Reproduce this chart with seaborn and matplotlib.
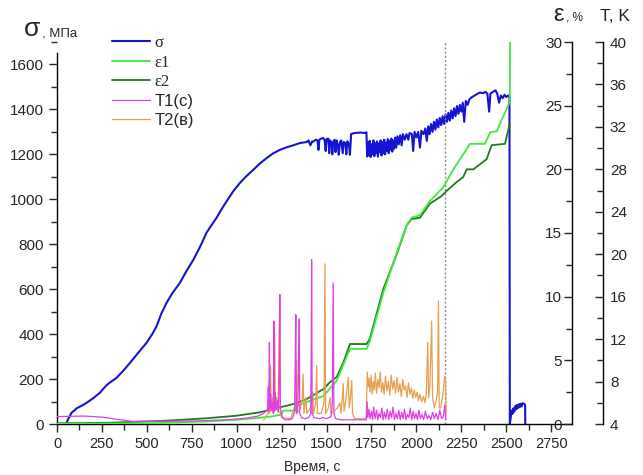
import matplotlib
matplotlib.use("Agg")
import matplotlib.pyplot as plt
from matplotlib.ticker import MultipleLocator
import seaborn as sns

sns.set_style("ticks")
plt.rcParams['font.family'] = ['Liberation Sans', 'DejaVu Sans']

# ---------------- data ----------------
sigma_t = [54, 58, 80, 110, 146, 175, 202, 240, 276, 300, 331, 370, 405, 450, 498, 530, 553, 580,
           609, 640, 683, 720, 759, 800, 832, 860, 888, 915, 943, 980, 1017, 1050, 1092, 1130, 1166,
           1200, 1240, 1280, 1314, 1350, 1390, 1400, 1410, 1420, 1427, 1440, 1450, 1455, 1460, 1470,
           1481, 1490, 1495, 1500, 1510, 1515, 1520, 1528, 1532, 1538, 1545, 1550, 1556, 1563, 1568,
           1575, 1582, 1590, 1596, 1605, 1610, 1616, 1625, 1630, 1637, 1650, 1670, 1690, 1710, 1722,
           1726, 1731, 1736, 1741, 1746, 1751, 1756, 1761, 1766, 1771, 1776, 1781, 1786, 1791, 1796,
           1801, 1806, 1811, 1816, 1821, 1826, 1831, 1836, 1841, 1846, 1851, 1856, 1861, 1866, 1871,
           1876, 1882, 1888, 1895, 1902, 1910, 1918, 1925, 1935, 1945, 1955, 1962, 1975, 1982, 1990,
           2000, 2010, 2020, 2028, 2040, 2050, 2058, 2066, 2074, 2082, 2090, 2098, 2106, 2114, 2122,
           2130, 2138, 2146, 2154, 2162, 2170, 2178, 2186, 2194, 2202, 2210, 2218, 2226, 2234, 2242,
           2250, 2258, 2266, 2275, 2285, 2295, 2310, 2325, 2340, 2354, 2370, 2385, 2395, 2405, 2412,
           2425, 2440, 2450, 2460, 2470, 2480, 2490, 2500, 2510, 2518, 2520, 2525, 2530, 2535, 2540,
           2545, 2550, 2555, 2560, 2565, 2570, 2575, 2580, 2585, 2590, 2600, 2605, 2606]
sigma_v = [3, 15, 49, 70, 85, 100, 115, 140, 173, 188, 205, 238, 271, 315, 361, 400, 433, 490,
           538, 580, 627, 680, 731, 795, 851, 885, 918, 955, 990, 1035, 1072, 1100, 1131, 1160, 1183,
           1203, 1220, 1232, 1240, 1250, 1255, 1262, 1240, 1258, 1257, 1265, 1262, 1220, 1265, 1270,
           1273, 1262, 1215, 1268, 1270, 1205, 1262, 1250, 1200, 1258, 1265, 1210, 1262, 1240, 1198,
           1255, 1262, 1205, 1255, 1250, 1200, 1258, 1245, 1198, 1290, 1294, 1296, 1297, 1295, 1298,
           1190, 1255, 1195, 1260, 1188, 1245, 1200, 1262, 1192, 1250, 1205, 1258, 1190, 1248, 1210,
           1262, 1195, 1255, 1205, 1265, 1200, 1252, 1215, 1268, 1205, 1260, 1220, 1270, 1212, 1262,
           1225, 1275, 1230, 1280, 1245, 1285, 1240, 1290, 1265, 1290, 1265, 1295, 1290, 1215, 1300,
           1275, 1300, 1230, 1305, 1290, 1315, 1260, 1325, 1290, 1335, 1300, 1345, 1310, 1355, 1320,
           1362, 1330, 1370, 1335, 1378, 1345, 1385, 1350, 1395, 1360, 1405, 1370, 1415, 1380, 1420,
           1390, 1430, 1345, 1438, 1420, 1445, 1455, 1462, 1470, 1475, 1472, 1478, 1470, 1390, 1470,
           1478, 1485, 1470, 1430, 1462, 1450, 1465, 1455, 1462, 1458, 0, 30, 60, 45, 70,
           55, 80, 65, 85, 70, 88, 75, 90, 78, 92, 90, 85, 0]

eps1_t = [0, 500, 832, 1017, 1100, 1200, 1250, 1258, 1324, 1333, 1483, 1557, 1630, 1723, 1741, 1816,
          1898, 1946, 1973, 2020, 2075, 2150, 2206, 2280, 2298, 2382, 2410, 2447, 2520, 2521]
eps1_v = [0.02, 0.05, 0.2, 0.35, 0.45, 0.6, 0.75, 1.05, 1.05, 1.44, 2.2, 3.4, 5.9, 5.9, 6.5, 10.3,
          13.75, 15.6, 16.2, 16.4, 17.5, 18.6, 20.0, 21.6, 22.0, 22.0, 22.9, 23.0, 25.3, 30.0]

eps2_t = [0, 300, 600, 832, 1000, 1129, 1316, 1390, 1483, 1520, 1557, 1594, 1630, 1723, 1741, 1816,
          1890, 1946, 1973, 2020, 2075, 2140, 2168, 2224, 2261, 2280, 2317, 2391, 2419, 2493, 2520]
eps2_v = [0.05, 0.1, 0.25, 0.45, 0.65, 0.92, 1.57, 1.96, 2.75, 3.3, 3.7, 4.85, 6.28, 6.28, 6.7, 10.6,
          13.3, 15.6, 16.1, 16.2, 17.3, 17.9, 18.3, 19.0, 19.4, 20.0, 20.0, 20.8, 21.9, 22.0, 23.6]

t1_t = [0, 150, 250, 330, 420, 600, 800, 950, 1050, 1120, 1150, 1170,
        1172, 1176, 1179, 1182, 1185, 1190, 1194, 1200, 1204, 1207, 1210, 1215, 1220, 1226, 1232,
        1237, 1240, 1243, 1248, 1255, 1270, 1290, 1310, 1322, 1326, 1329, 1332, 1340, 1345, 1348,
        1351, 1360, 1380, 1400, 1412, 1415, 1417, 1420, 1430, 1460, 1480, 1500, 1525, 1532, 1537,
        1541, 1550, 1580, 1620, 1660, 1700, 1722, 1726, 1730, 1736, 1742, 1750, 1756, 1762, 1770,
        1778, 1785, 1792, 1800, 1808, 1815, 1822, 1830, 1838, 1846, 1854, 1862, 1870, 1878, 1886,
        1894, 1902, 1910, 1918, 1926, 1934, 1942, 1950, 1958, 1966, 1974, 1982, 1990, 1998, 2006,
        2014, 2022, 2030, 2040, 2050, 2060, 2070, 2080, 2090, 2100, 2110, 2120, 2130, 2140, 2150,
        2158, 2164]
t1_v = [4.7, 4.75, 4.65, 4.45, 4.25, 4.25, 4.3, 4.4, 4.55, 4.75, 5.0, 5.3,
        5.5, 7.5, 5.2, 11.7, 5.5, 6.8, 5.3, 6.0, 5.0, 13.7, 5.2, 7.0, 5.3, 6.2, 5.1,
        9.0, 16.2, 5.6, 5.0, 4.6, 4.4, 4.4, 4.5, 5.2, 10.5, 14.3, 5.0, 5.5, 9.5, 13.9,
        5.0, 4.6, 4.5, 4.6, 5.0, 12.0, 19.5, 5.0, 4.6, 4.5, 4.6, 4.5, 4.7, 6.0, 17.3,
        5.0, 4.5, 4.4, 4.4, 4.4, 4.4, 4.4, 6.1, 4.6, 5.4, 4.5, 5.2, 4.4, 5.6, 4.5,
        5.3, 4.4, 5.0, 4.6, 5.5, 4.4, 5.1, 4.5, 5.4, 4.4, 5.2, 4.6, 5.6, 4.4, 5.0,
        4.5, 5.3, 4.4, 5.1, 4.5, 5.4, 4.4, 4.9, 4.6, 5.5, 4.4, 5.2, 4.5, 5.0, 4.4,
        5.3, 4.5, 4.9, 4.4, 5.2, 4.5, 4.8, 4.4, 5.1, 4.5, 5.0, 4.4, 5.3, 4.5, 4.7,
        5.8, 4.4]

t2_t = [1150, 1175, 1180, 1183, 1188, 1192, 1200, 1205, 1212, 1215, 1222, 1230, 1238, 1242, 1250,
        1300, 1330, 1335, 1338, 1355, 1365, 1370, 1374, 1385, 1390, 1410, 1423, 1428, 1440, 1445,
        1449, 1470, 1486, 1491, 1495, 1510, 1520, 1525, 1560, 1575, 1580, 1588, 1593, 1597, 1605,
        1612, 1621, 1626, 1633, 1640, 1645, 1655, 1720, 1724, 1727, 1732, 1737, 1742, 1748, 1754,
        1760, 1766, 1772, 1778, 1785, 1792, 1799, 1806, 1813, 1820, 1828, 1836, 1844, 1852, 1860,
        1868, 1876, 1884, 1892, 1900, 1908, 1916, 1924, 1932, 1940, 1948, 1956, 1964, 1972, 1980,
        1988, 1996, 2004, 2012, 2020, 2030, 2040, 2048, 2055, 2063, 2068, 2075, 2085, 2090, 2100,
        2110, 2118, 2123, 2127, 2135, 2145, 2152, 2158, 2163, 2166]
t2_v = [4.4, 5.0, 8.0, 5.0, 9.5, 5.2, 6.5, 5.0, 12.5, 5.3, 6.5, 5.2, 14.5, 5.0, 4.6,
        4.5, 6.0, 10.0, 5.0, 5.5, 6.5, 8.7, 5.0, 6.5, 5.0, 5.5, 7.0, 5.0, 6.0, 9.5,
        5.0, 5.0, 6.0, 19.1, 5.0, 5.5, 6.5, 5.0, 5.5, 6.0, 5.0, 6.5, 7.8, 5.2, 6.0,
        7.0, 8.4, 5.5, 6.5, 8.1, 5.0, 4.5, 4.5, 7.0, 8.9, 7.5, 8.3, 7.0, 8.6, 6.8,
        8.0, 7.2, 8.8, 6.9, 8.2, 7.4, 8.9, 7.0, 7.9, 6.8, 8.5, 7.1, 8.0, 6.7, 8.6,
        7.3, 8.1, 6.9, 8.4, 7.0, 7.8, 6.6, 8.2, 7.2, 7.6, 6.5, 7.9, 6.8, 7.4, 6.4,
        7.2, 6.5, 7.0, 6.2, 6.8, 6.1, 6.6, 6.0, 6.8, 11.7, 6.5, 7.5, 13.7, 6.5, 5.5,
        6.2, 7.0, 15.6, 5.5, 5.5, 6.5, 7.5, 8.5, 8.0, 5.0]

C_SIGMA = "#1414d2"
C_E1 = "#3ee83e"
C_E2 = "#1f7a1f"
C_T1 = "#e040e0"
C_T2 = "#e8a050"

# ---------------- figure ----------------
fig = plt.figure(figsize=(6.43, 4.75), dpi=100)
ax = fig.add_axes([57 / 643, 1 - 424 / 475, (572 - 57) / 643, (424 - 42) / 475])
ax_e = ax.twinx()
ax_t = ax.twinx()

sns.lineplot(x=sigma_t, y=sigma_v, ax=ax, color=C_SIGMA, lw=1.5, estimator=None, sort=False, legend=False)
sns.lineplot(x=t2_t, y=t2_v, ax=ax_t, color=C_T2, lw=0.9, estimator=None, sort=False, legend=False)
sns.lineplot(x=t1_t, y=t1_v, ax=ax_t, color=C_T1, lw=0.9, estimator=None, sort=False, legend=False)
sns.lineplot(x=eps2_t, y=eps2_v, ax=ax_e, color=C_E2, lw=1.3, estimator=None, sort=False, legend=False)
sns.lineplot(x=eps1_t, y=eps1_v, ax=ax_e, color=C_E1, lw=1.3, estimator=None, sort=False, legend=False)

ax.axvline(2160, color="#8a8a8a", lw=1.0, ls=(0, (1.5, 1.5)))

ax.set_xlim(0, 2866)
ax.set_ylim(0, 1700)
ax_e.set_ylim(0, 30)
ax_t.set_ylim(4, 40)
for a in (ax, ax_e, ax_t):
    a.set_xlabel("")
    a.set_ylabel("")

# spines
ax.spines['top'].set_visible(False)
ax.spines['right'].set_visible(False)
ax.spines['left'].set_bounds(0, 1650)
for a in (ax_e, ax_t):
    for s in ('left', 'top', 'bottom'):
        a.spines[s].set_visible(False)
ax_t.spines['right'].set_position(('axes', (603 - 57) / 515))
for a in (ax, ax_e, ax_t):
    for s in a.spines.values():
        s.set_linewidth(1.0)
        s.set_color('black')

# ticks
ax.xaxis.set_major_locator(MultipleLocator(250))
ax.xaxis.set_minor_locator(MultipleLocator(125))
ax.yaxis.set_major_locator(MultipleLocator(200))
ax.yaxis.set_minor_locator(MultipleLocator(100))
ax.tick_params(axis='both', which='major', direction='out', length=6, width=1, labelsize=11)
ax.tick_params(axis='both', which='minor', direction='out', length=4, width=1)
ax.tick_params(axis='x', labelsize=10.5, pad=3)

ax_e.yaxis.set_major_locator(MultipleLocator(5))
ax_e.yaxis.set_minor_locator(MultipleLocator(2.5))
ax_e.tick_params(axis='y', which='major', direction='in', length=6, width=1, labelsize=11, pad=-7)
ax_e.tick_params(axis='y', which='minor', direction='in', length=4, width=1)
ax_e.set_yticks([0, 5, 10, 15, 20, 25, 30])
for tk in ax_e.yaxis.get_major_ticks():
    tk.label2.set_horizontalalignment('right')

ax_t.yaxis.set_major_locator(MultipleLocator(4))
ax_t.yaxis.set_minor_locator(MultipleLocator(2))
ax_t.set_yticks([4, 8, 12, 16, 20, 24, 28, 32, 36, 40])
ax_t.tick_params(axis='y', which='major', direction='in', length=6, width=1, labelsize=11, pad=5)
ax_t.tick_params(axis='y', which='minor', direction='in', length=4, width=1)

# axis titles
fig.text(24 / 643, 1 - 36 / 475, "σ", fontsize=19, ha='left', va='baseline')
fig.text(42 / 643, 1 - 36 / 475, ", МПа", fontsize=9.5, ha='left', va='baseline')
fig.text(553 / 643, 1 - 21 / 475, "ε", fontsize=17, ha='left', va='baseline')
fig.text(566 / 643, 1 - 21 / 475, ", %", fontsize=8.5, ha='left', va='baseline')
fig.text(600 / 643, 1 - 21 / 475, "T, K", fontsize=12.5, ha='left', va='baseline')
fig.text(312 / 643, 1 - 471 / 475, "Время, с", fontsize=10, ha='center', va='baseline')

# legend
handles = [ax.lines[0], ax_e.lines[1], ax_e.lines[0], ax_t.lines[1], ax_t.lines[0]]
labels = ["σ", "ε1", "ε2", "T1(с)", "T2(в)"]
leg = fig.legend(handles, labels, loc='upper left', bbox_to_anchor=(112 / 643, 1 - 35 / 475),
                 frameon=False, fontsize=12, handlelength=2.3, handletextpad=0.25,
                 labelspacing=0.22, borderaxespad=0, borderpad=0)
for i, txt in enumerate(leg.get_texts()):
    if i < 3:
        txt.set_family(['Liberation Serif', 'DejaVu Serif'])

fig.savefig("out.png", dpi=100)
